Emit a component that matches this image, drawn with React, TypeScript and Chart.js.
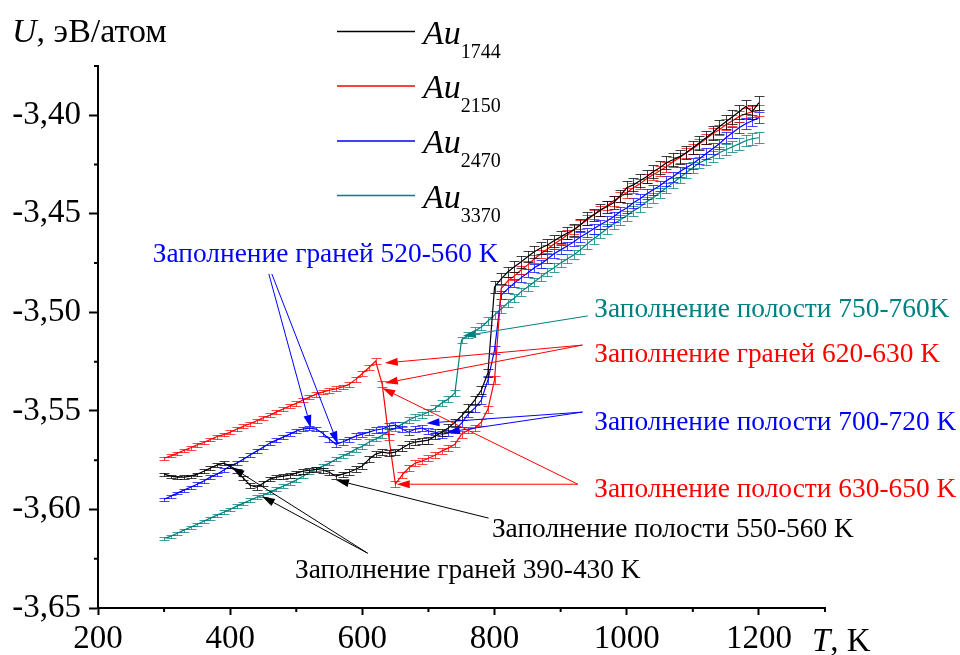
import React, { useEffect, useRef } from 'react';
import { Chart, registerables } from 'chart.js';

Chart.register(...registerables);

// ---------- DATA ----------
const temperatures = [
  300, 310, 320, 330, 340, 350, 360, 370, 380, 390,
  400, 410, 420, 430, 440, 450, 460, 470, 480, 490,
  500, 510, 520, 530, 540, 550, 560, 570, 580, 590,
  600, 610, 620, 630, 640, 650, 660, 670, 680, 690,
  700, 710, 720, 730, 740, 750, 760, 770, 780, 790,
  800, 810, 820, 830, 840, 850, 860, 870, 880, 890,
  900, 910, 920, 930, 940, 950, 960, 970, 980, 990,
  1000, 1010, 1020, 1030, 1040, 1050, 1060, 1070, 1080, 1090,
  1100, 1110, 1120, 1130, 1140, 1150, 1160, 1170, 1180, 1190,
  1200,
];

const au1744 = [
  -3.5821, -3.5831, -3.5836, -3.5836, -3.5831, -3.5821, -3.5806, -3.5790, -3.5775, -3.5765,
  -3.5780, -3.5806, -3.5841, -3.5877, -3.5887, -3.5867, -3.5846, -3.5836, -3.5831, -3.5826,
  -3.5816, -3.5806, -3.5801, -3.5796, -3.5801, -3.5811, -3.5831, -3.5821, -3.5811, -3.5796,
  -3.5780, -3.5745, -3.5719, -3.5709, -3.5714, -3.5709, -3.5689, -3.5669, -3.5658, -3.5653,
  -3.5648, -3.5628, -3.5608, -3.5587, -3.5557, -3.5526, -3.5486, -3.5445, -3.5394, -3.5308,
  -3.4871, -3.4830, -3.4795, -3.4769, -3.4744, -3.4718, -3.4693, -3.4673, -3.4658, -3.4637,
  -3.4617, -3.4597, -3.4581, -3.4556, -3.4525, -3.4505, -3.4480, -3.4464, -3.4444, -3.4409,
  -3.4368, -3.4353, -3.4332, -3.4312, -3.4287, -3.4266, -3.4241, -3.4226, -3.4210, -3.4190,
  -3.4165, -3.4139, -3.4114, -3.4089, -3.4058, -3.4033, -3.4007, -3.3982, -3.3956, -3.3982,
  -3.3936,
];
const err1744 = [
  0.0008, 0.0007, 0.0008, 0.0009, 0.0008, 0.0008, 0.0009, 0.0008, 0.0009, 0.0010,
  0.0010, 0.0011, 0.0012, 0.0012, 0.0013, 0.0012, 0.0011, 0.0011, 0.0012, 0.0012,
  0.0011, 0.0012, 0.0011, 0.0012, 0.0012, 0.0013, 0.0012, 0.0013, 0.0014, 0.0014,
  0.0015, 0.0014, 0.0015, 0.0016, 0.0015, 0.0016, 0.0016, 0.0017, 0.0016, 0.0017,
  0.0018, 0.0017, 0.0018, 0.0019, 0.0018, 0.0019, 0.0020, 0.0020, 0.0021, 0.0022,
  0.0030, 0.0028, 0.0027, 0.0028, 0.0029, 0.0028, 0.0029, 0.0030, 0.0029, 0.0030,
  0.0031, 0.0030, 0.0031, 0.0030, 0.0032, 0.0031, 0.0032, 0.0031, 0.0033, 0.0032,
  0.0032, 0.0033, 0.0032, 0.0034, 0.0033, 0.0033, 0.0034, 0.0033, 0.0035, 0.0034,
  0.0034, 0.0035, 0.0034, 0.0035, 0.0036, 0.0035, 0.0036, 0.0035, 0.0036, 0.0035,
  0.0036,
];

const au2150 = [
  -3.5740, -3.5728, -3.5715, -3.5700, -3.5687, -3.5672, -3.5660, -3.5645, -3.5630, -3.5620,
  -3.5608, -3.5592, -3.5578, -3.5565, -3.5550, -3.5535, -3.5522, -3.5505, -3.5490, -3.5475,
  -3.5462, -3.5445, -3.5430, -3.5415, -3.5405, -3.5395, -3.5388, -3.5378, -3.5365, -3.5340,
  -3.5310, -3.5280, -3.5247, -3.5364, -3.5633, -3.5872, -3.5826, -3.5790, -3.5765, -3.5755,
  -3.5740, -3.5725, -3.5704, -3.5689, -3.5669, -3.5618, -3.5597, -3.5587, -3.5557, -3.5491,
  -3.5343, -3.4880, -3.4840, -3.4815, -3.4785, -3.4759, -3.4729, -3.4703, -3.4678, -3.4653,
  -3.4632, -3.4607, -3.4581, -3.4556, -3.4531, -3.4505, -3.4485, -3.4459, -3.4434, -3.4414,
  -3.4393, -3.4368, -3.4348, -3.4322, -3.4302, -3.4282, -3.4261, -3.4236, -3.4216, -3.4190,
  -3.4170, -3.4145, -3.4119, -3.4094, -3.4073, -3.4048, -3.4028, -3.4007, -3.3992, -3.3982,
  -3.3977,
];
const err2150 = [
  0.0008, 0.0008, 0.0009, 0.0008, 0.0009, 0.0009, 0.0008, 0.0009, 0.0010, 0.0009,
  0.0010, 0.0009, 0.0010, 0.0010, 0.0011, 0.0010, 0.0011, 0.0010, 0.0011, 0.0011,
  0.0011, 0.0012, 0.0011, 0.0012, 0.0011, 0.0012, 0.0012, 0.0011, 0.0012, 0.0013,
  0.0013, 0.0012, 0.0014, 0.0014, 0.0015, 0.0014, 0.0015, 0.0014, 0.0015, 0.0016,
  0.0015, 0.0016, 0.0015, 0.0016, 0.0016, 0.0017, 0.0016, 0.0017, 0.0018, 0.0018,
  0.0020, 0.0021, 0.0020, 0.0021, 0.0022, 0.0021, 0.0022, 0.0021, 0.0022, 0.0023,
  0.0022, 0.0023, 0.0022, 0.0023, 0.0024, 0.0023, 0.0024, 0.0023, 0.0024, 0.0024,
  0.0025, 0.0024, 0.0025, 0.0024, 0.0025, 0.0026, 0.0025, 0.0026, 0.0025, 0.0026,
  0.0026, 0.0027, 0.0026, 0.0027, 0.0026, 0.0027, 0.0028, 0.0027, 0.0028, 0.0027,
  0.0028,
];

const au2470 = [
  -3.5948, -3.5933, -3.5917, -3.5902, -3.5887, -3.5872, -3.5856, -3.5836, -3.5821, -3.5801,
  -3.5780, -3.5765, -3.5745, -3.5724, -3.5704, -3.5684, -3.5663, -3.5648, -3.5633, -3.5618,
  -3.5602, -3.5592, -3.5587, -3.5592, -3.5613, -3.5643, -3.5669, -3.5658, -3.5643, -3.5628,
  -3.5618, -3.5608, -3.5597, -3.5592, -3.5577, -3.5572, -3.5592, -3.5608, -3.5592, -3.5587,
  -3.5602, -3.5608, -3.5618, -3.5613, -3.5597, -3.5562, -3.5516, -3.5486, -3.5445, -3.5343,
  -3.5191, -3.4912, -3.4881, -3.4851, -3.4825, -3.4800, -3.4774, -3.4754, -3.4729, -3.4703,
  -3.4683, -3.4663, -3.4642, -3.4617, -3.4597, -3.4576, -3.4556, -3.4536, -3.4515, -3.4490,
  -3.4470, -3.4444, -3.4424, -3.4399, -3.4378, -3.4358, -3.4332, -3.4312, -3.4287, -3.4266,
  -3.4246, -3.4221, -3.4195, -3.4170, -3.4145, -3.4114, -3.4089, -3.4063, -3.4043, -3.4028,
  -3.4012,
];
const err2470 = [
  0.0007, 0.0008, 0.0007, 0.0008, 0.0008, 0.0009, 0.0008, 0.0009, 0.0008, 0.0009,
  0.0009, 0.0010, 0.0009, 0.0010, 0.0010, 0.0011, 0.0010, 0.0011, 0.0011, 0.0010,
  0.0011, 0.0012, 0.0011, 0.0012, 0.0012, 0.0013, 0.0012, 0.0013, 0.0013, 0.0014,
  0.0013, 0.0014, 0.0015, 0.0014, 0.0015, 0.0016, 0.0015, 0.0016, 0.0015, 0.0016,
  0.0017, 0.0016, 0.0017, 0.0016, 0.0017, 0.0018, 0.0017, 0.0018, 0.0019, 0.0019,
  0.0021, 0.0020, 0.0021, 0.0022, 0.0021, 0.0022, 0.0021, 0.0022, 0.0023, 0.0022,
  0.0023, 0.0022, 0.0023, 0.0024, 0.0023, 0.0024, 0.0023, 0.0024, 0.0025, 0.0024,
  0.0025, 0.0024, 0.0025, 0.0026, 0.0025, 0.0026, 0.0025, 0.0026, 0.0027, 0.0026,
  0.0027, 0.0026, 0.0027, 0.0028, 0.0027, 0.0028, 0.0027, 0.0028, 0.0029, 0.0028,
  0.0029,
];

const au3370 = [
  -3.6146, -3.6136, -3.6121, -3.6105, -3.6090, -3.6075, -3.6060, -3.6044, -3.6029, -3.6014,
  -3.5999, -3.5983, -3.5968, -3.5953, -3.5938, -3.5928, -3.5912, -3.5897, -3.5882, -3.5867,
  -3.5851, -3.5831, -3.5811, -3.5796, -3.5780, -3.5765, -3.5745, -3.5729, -3.5714, -3.5694,
  -3.5679, -3.5658, -3.5643, -3.5623, -3.5602, -3.5587, -3.5567, -3.5547, -3.5531, -3.5521,
  -3.5506, -3.5486, -3.5460, -3.5440, -3.5409, -3.5140, -3.5115, -3.5094, -3.5074, -3.5044,
  -3.5013, -3.4983, -3.4952, -3.4927, -3.4896, -3.4871, -3.4846, -3.4820, -3.4795, -3.4774,
  -3.4749, -3.4729, -3.4708, -3.4683, -3.4653, -3.4627, -3.4602, -3.4576, -3.4551, -3.4531,
  -3.4510, -3.4485, -3.4465, -3.4439, -3.4419, -3.4393, -3.4368, -3.4343, -3.4317, -3.4292,
  -3.4266, -3.4241, -3.4226, -3.4211, -3.4190, -3.4175, -3.4160, -3.4145, -3.4129, -3.4119,
  -3.4114,
];
const err3370 = [
  0.0007, 0.0007, 0.0008, 0.0007, 0.0008, 0.0008, 0.0007, 0.0008, 0.0008, 0.0009,
  0.0008, 0.0009, 0.0008, 0.0009, 0.0009, 0.0010, 0.0009, 0.0010, 0.0009, 0.0010,
  0.0010, 0.0011, 0.0010, 0.0011, 0.0011, 0.0010, 0.0011, 0.0012, 0.0011, 0.0012,
  0.0012, 0.0013, 0.0012, 0.0013, 0.0013, 0.0014, 0.0013, 0.0014, 0.0014, 0.0015,
  0.0014, 0.0015, 0.0015, 0.0016, 0.0016, 0.0017, 0.0017, 0.0018, 0.0018, 0.0019,
  0.0019, 0.0020, 0.0020, 0.0021, 0.0020, 0.0021, 0.0021, 0.0022, 0.0021, 0.0022,
  0.0022, 0.0023, 0.0022, 0.0023, 0.0023, 0.0024, 0.0023, 0.0024, 0.0024, 0.0025,
  0.0024, 0.0025, 0.0025, 0.0026, 0.0025, 0.0026, 0.0026, 0.0027, 0.0026, 0.0027,
  0.0027, 0.0028, 0.0027, 0.0028, 0.0028, 0.0029, 0.0028, 0.0029, 0.0029, 0.0030,
  0.0029,
];

const seriesSubscripts = ['1744', '2150', '2470', '3370'];
const seriesValues = [au1744, au2150, au2470, au3370];
const seriesErrors = [err1744, err2150, err2470, err3370];
const seriesColors = ['#000000', '#ff0000', '#0000ff', '#008080'];
const errorColors = ['rgba(0,0,0,0.75)', 'rgba(255,0,0,0.72)', 'rgba(0,0,255,0.72)', 'rgba(0,128,128,0.75)'];

const xTicks = [200, 400, 600, 800, 1000, 1200];
const xTickLabels = ['200', '400', '600', '800', '1000', '1200'];
const xMinorTicks = [300, 500, 700, 900, 1100, 1300];
const yTicks = [-3.65, -3.6, -3.55, -3.5, -3.45, -3.4];
const yTickLabels = ['-3,65', '-3,60', '-3,55', '-3,50', '-3,45', '-3,40'];
const yMinorTicks = [-3.625, -3.575, -3.525, -3.475, -3.425, -3.375];

// annotations: text anchor (T, U) = left / baseline, arrows from -> to in data units
const annotations = [
  { text: 'Заполнение граней 520-560 K', color: '#0000ff', at: [283, -3.4744],
    arrows: [[[458.5, -3.4805], [522, -3.5587]], [[463, -3.4805], [563, -3.5669]]] },
  { text: 'Заполнение полости 750-760K', color: '#008080', at: [951, -3.5023],
    arrows: [[[941, -3.5018], [752, -3.5120]]] },
  { text: 'Заполнение граней 620-630 K', color: '#ff0000', at: [951, -3.5252],
    arrows: [[[933, -3.5166], [634, -3.5257]], [[933, -3.5166], [634, -3.5359]]] },
  { text: 'Заполнение полости 700-720 K', color: '#0000ff', at: [951, -3.5597],
    arrows: [[[933, -3.5506], [697, -3.5562]], [[933, -3.5506], [728, -3.5608]]] },
  { text: 'Заполнение полости 630-650 K', color: '#ff0000', at: [951, -3.5938],
    arrows: [[[926, -3.5872], [630, -3.5384]], [[926, -3.5872], [652, -3.5872]]] },
  { text: 'Заполнение полости 550-560 K', color: '#000000', at: [796, -3.6141],
    arrows: [[[791, -3.6044], [560, -3.5851]]] },
  { text: 'Заполнение граней 390-430 K', color: '#000000', at: [498, -3.6349],
    arrows: [[[608, -3.6222], [402, -3.5785]], [[608, -3.6222], [448, -3.5933]]] },
];

const FONT = "'Liberation Serif', 'Times New Roman', serif";

function drawArrow(ctx: CanvasRenderingContext2D, x1: number, y1: number, x2: number, y2: number, color: string) {
  const ang = Math.atan2(y2 - y1, x2 - x1);
  const len = 13;
  const hw = 4;
  const bx = x2 - len * Math.cos(ang);
  const by = y2 - len * Math.sin(ang);
  ctx.strokeStyle = color;
  ctx.fillStyle = color;
  ctx.lineWidth = 1;
  ctx.beginPath();
  ctx.moveTo(x1, y1);
  ctx.lineTo(bx, by);
  ctx.stroke();
  ctx.beginPath();
  ctx.moveTo(x2, y2);
  ctx.lineTo(bx + hw * Math.sin(ang), by - hw * Math.cos(ang));
  ctx.lineTo(bx - hw * Math.sin(ang), by + hw * Math.cos(ang));
  ctx.closePath();
  ctx.fill();
}

const overlayPlugin = {
  id: 'overlay',
  afterDatasetDraw(chart: any, args: any) {
    const i = args.index;
    const ctx: CanvasRenderingContext2D = chart.ctx;
    const xs = chart.scales.x;
    const ys = chart.scales.y;
    const vals = seriesValues[i];
    const errs = seriesErrors[i];
    ctx.save();
    ctx.strokeStyle = errorColors[i];
    ctx.lineWidth = 1;
    ctx.beginPath();
    for (let j = 0; j < temperatures.length; j++) {
      const x = Math.round(xs.getPixelForValue(temperatures[j])) + 0.5;
      const y1 = Math.round(ys.getPixelForValue(vals[j] + errs[j])) + 0.5;
      const y2 = Math.round(ys.getPixelForValue(vals[j] - errs[j])) + 0.5;
      ctx.moveTo(x, y1); ctx.lineTo(x, y2);
      ctx.moveTo(x - 5, y1); ctx.lineTo(x + 5, y1);
      ctx.moveTo(x - 5, y2); ctx.lineTo(x + 5, y2);
    }
    ctx.stroke();
    ctx.restore();
  },
  afterDraw(chart: any) {
    const ctx: CanvasRenderingContext2D = chart.ctx;
    const xs = chart.scales.x;
    const ys = chart.scales.y;
    const area = chart.chartArea;
    ctx.save();
    // minor ticks
    ctx.strokeStyle = '#000';
    ctx.lineWidth = 2;
    ctx.beginPath();
    for (const v of xMinorTicks) {
      const x = xs.getPixelForValue(v);
      ctx.moveTo(x, area.bottom); ctx.lineTo(x, area.bottom + 4);
    }
    for (const v of yMinorTicks) {
      const y = ys.getPixelForValue(v);
      ctx.moveTo(area.left - 4, y); ctx.lineTo(area.left, y);
    }
    ctx.stroke();

    // axis titles
    ctx.fillStyle = '#000';
    ctx.textBaseline = 'alphabetic';
    ctx.textAlign = 'left';
    ctx.font = `italic 34px ${FONT}`;
    ctx.fillText('U', 12, 42);
    let w = ctx.measureText('U').width;
    ctx.font = `34px ${FONT}`;
    ctx.fillText(', эВ/атом', 12 + w, 42);

    ctx.font = `italic 33px ${FONT}`;
    ctx.fillText('T', 812, 651);
    w = ctx.measureText('T').width;
    ctx.font = `33px ${FONT}`;
    ctx.fillText(', K', 812 + w, 651);

    // legend
    const legendRows = [31.5, 86, 141, 195.5];
    for (let i = 0; i < 4; i++) {
      const yy = legendRows[i];
      ctx.strokeStyle = seriesColors[i];
      ctx.lineWidth = 1.3;
      ctx.beginPath();
      ctx.moveTo(337, yy); ctx.lineTo(415, yy);
      ctx.stroke();
      ctx.fillStyle = '#000';
      ctx.font = `italic 34px ${FONT}`;
      ctx.fillText('Au', 423, yy + 12);
      const aw = ctx.measureText('Au').width;
      ctx.font = `20px ${FONT}`;
      ctx.fillText(seriesSubscripts[i], 423 + aw, yy + 26);
    }

    // annotations
    ctx.font = `27.4px ${FONT}`;
    for (const a of annotations) {
      for (const [from, to] of a.arrows) {
        drawArrow(ctx, xs.getPixelForValue(from[0]), ys.getPixelForValue(from[1]),
          xs.getPixelForValue(to[0]), ys.getPixelForValue(to[1]), a.color);
      }
      ctx.fillStyle = a.color;
      ctx.fillText(a.text, xs.getPixelForValue(a.at[0]), ys.getPixelForValue(a.at[1]));
    }
    ctx.restore();
  },
};

export default function App() {
  const ref = useRef<HTMLCanvasElement | null>(null);
  useEffect(() => {
    if (!ref.current) return;
    const datasets = seriesValues.map((vals, i) => ({
      label: 'Au' + seriesSubscripts[i],
      data: temperatures.map((t, j) => ({ x: t, y: vals[j] })),
      borderColor: seriesColors[i],
      backgroundColor: seriesColors[i],
      borderWidth: 1.2,
      pointRadius: 0,
      tension: 0,
      fill: false,
    }));
    const chart = new Chart(ref.current, {
      type: 'line',
      data: { datasets },
      options: {
        animation: false,
        responsive: false,
        devicePixelRatio: 1,
        layout: { padding: { top: 66, right: 135, left: 0, bottom: 0 } },
        plugins: { legend: { display: false }, tooltip: { enabled: false } },
        scales: {
          x: {
            type: 'linear',
            position: 'bottom',
            min: 200,
            max: 1300,
            afterBuildTicks: (s: any) => { s.ticks = xTicks.map((v) => ({ value: v })); },
            afterFit: (s: any) => { s.height = 47; },
            border: { display: true, color: '#000', width: 2 },
            grid: { display: true, drawOnChartArea: false, drawTicks: true, tickLength: 7, tickWidth: 2, tickColor: '#000' },
            ticks: {
              color: '#000', font: { family: FONT, size: 33 }, padding: 5, maxRotation: 0, autoSkip: false,
              callback: (v: any) => { const k = xTicks.indexOf(Number(v)); return k >= 0 ? xTickLabels[k] : ''; },
            },
          },
          y: {
            type: 'linear',
            min: -3.65,
            max: -3.375,
            afterBuildTicks: (s: any) => { s.ticks = yTicks.map((v) => ({ value: v })); },
            afterFit: (s: any) => { s.width = 98; },
            border: { display: true, color: '#000', width: 2 },
            grid: { display: true, drawOnChartArea: false, drawTicks: true, tickLength: 9, tickWidth: 2, tickColor: '#000' },
            ticks: {
              color: '#000',
              font: { family: FONT, size: 33 },
              padding: 8,
              callback: (v: any) => {
                const k = yTicks.findIndex((t) => Math.abs(t - Number(v)) < 1e-6);
                return k >= 0 ? yTickLabels[k] : '';
              },
            },
          },
        },
      },
      plugins: [overlayPlugin],
    } as any);
    return () => chart.destroy();
  }, []);
  return (
    <div style={{ position: 'fixed', left: 0, top: 0, width: 960, height: 655, background: '#fff' }}>
      <canvas ref={ref} width={960} height={655} style={{ width: 960, height: 655 }} />
    </div>
  );
}
